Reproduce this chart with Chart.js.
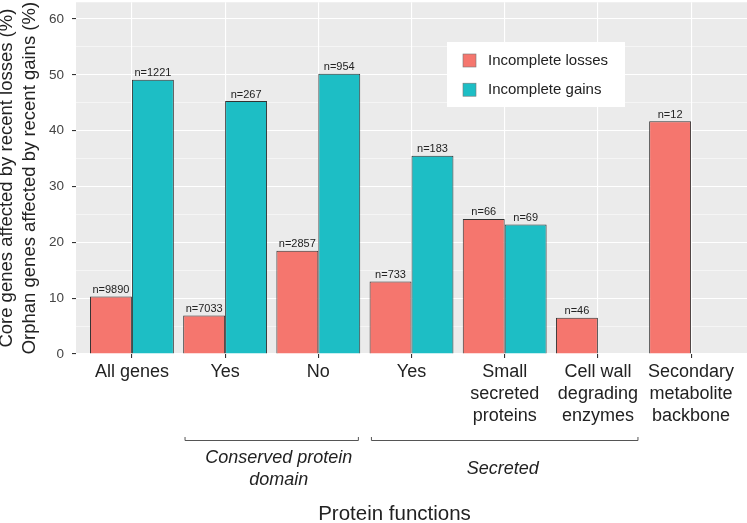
<!DOCTYPE html>
<html lang="en">
<head>
  <meta charset="UTF-8" />
  <title>Protein functions</title>
  <script src="https://cdn.jsdelivr.net/npm/chart.js"></script>
  <style>
    html, body { margin: 0; padding: 0; background: #fff; }
  </style>
</head>
<body>
  <canvas id="myChart" width="747" height="523"></canvas>

  <script>
    // x axis categories (one array per label = lines)
    const categories = [
      ['All genes'], ['Yes'], ['No'], ['Yes'],
      ['Small', 'secreted', 'proteins'],
      ['Cell wall', 'degrading', 'enzymes'],
      ['Secondary', 'metabolite', 'backbone']
    ];
    const lossValues = [10.3, 6.9, 18.5, 13.0, 24.2, 6.5, 41.7];
    const gainValues = [49.1, 45.3, 50.2, 35.5, 23.2, null, null];
    const lossN = ['n=9890', 'n=7033', 'n=2857', 'n=733', 'n=66', 'n=46', 'n=12'];
    const gainN = ['n=1221', 'n=267', 'n=954', 'n=183', 'n=69', null, null];
    const yTicks = [0, 10, 20, 30, 40, 50, 60];
    const yTitle = ['Core genes affected by recent losses (%)', 'Orphan genes affected by recent gains (%)'];
    const xTitle = 'Protein functions';
    const groups = [
      { text: ['Conserved protein', 'domain'], from: 1, to: 2 },
      { text: ['Secreted'], from: 3, to: 5 }
    ];

    const FONT = '"Liberation Sans", Arial, Helvetica, sans-serif';

    // panel background, n= labels, legend, brackets and titles
    const ggExtras = {
      id: 'ggExtras',
      beforeDraw(chart) {
        const { ctx, chartArea: a } = chart;
        ctx.save();
        ctx.fillStyle = '#EBEBEB';
        ctx.fillRect(a.left, a.top, a.right - a.left, a.bottom - a.top);
        ctx.restore();
      },
      afterDatasetsDraw(chart) {
        const ctx = chart.ctx;
        ctx.save();
        ctx.font = '11px ' + FONT;
        ctx.fillStyle = '#222';
        ctx.textAlign = 'center';
        ctx.textBaseline = 'alphabetic';
        [lossN, gainN].forEach((labels, di) => {
          const vals = chart.data.datasets[di].data;
          chart.getDatasetMeta(di).data.forEach((bar, i) => {
            if (!labels[i] || vals[i].y == null) return;
            ctx.fillText(labels[i], bar.x, bar.y - 3.5);
          });
        });
        ctx.restore();
      },
      afterDraw(chart) {
        const { ctx, chartArea: a } = chart;
        const xs = chart.scales.x;
        ctx.save();

        // legend box
        ctx.fillStyle = '#fff';
        ctx.fillRect(447, 42, 178, 65);
        chart.data.datasets.forEach((ds, i) => {
          const cy = 60.5 + i * 29.2;
          ctx.fillStyle = ds.backgroundColor;
          ctx.fillRect(463, cy - 6.5, 13, 13);
          ctx.strokeStyle = '#777';
          ctx.lineWidth = 0.6;
          ctx.strokeRect(463, cy - 6.5, 13, 13);
          ctx.fillStyle = '#222';
          ctx.font = '15px ' + FONT;
          ctx.textAlign = 'left';
          ctx.textBaseline = 'middle';
          ctx.fillText(ds.label, 488, cy);
        });

        // group brackets under the axis labels
        const nudge = [7, -2];
        groups.forEach((g, k) => {
          const x0 = xs.getPixelForValue(g.from - 0.43);
          const x1 = xs.getPixelForValue(g.to + 0.43);
          const by = 440.5;
          ctx.strokeStyle = '#555';
          ctx.lineWidth = 1;
          ctx.beginPath();
          ctx.moveTo(x0, by - 3.5);
          ctx.lineTo(x0, by);
          ctx.lineTo(x1, by);
          ctx.lineTo(x1, by - 3.5);
          ctx.stroke();
          ctx.fillStyle = '#222';
          ctx.font = 'italic 18px ' + FONT;
          ctx.textAlign = 'center';
          ctx.textBaseline = 'middle';
          const cx = (x0 + x1) / 2 + nudge[k];
          const lh = 21.7;
          const top = 469 - (g.text.length - 1) * lh / 2;
          g.text.forEach((t, j) => ctx.fillText(t, cx, top + j * lh));
        });

        // x title
        ctx.fillStyle = '#222';
        ctx.font = '20.5px ' + FONT;
        ctx.textAlign = 'center';
        ctx.textBaseline = 'middle';
        ctx.fillText(xTitle, 394.5, 514);

        // y title, two rotated lines
        ctx.translate(7, (a.top + a.bottom) / 2);
        ctx.rotate(-Math.PI / 2);
        ctx.font = '18.5px ' + FONT;
        ctx.fillText(yTitle[0], 0, 0);
        ctx.fillText(yTitle[1], 0, 23);
        ctx.restore();
      }
    };

    const ctx = document.getElementById('myChart').getContext('2d');
    const myChart = new Chart(ctx, {
      type: 'bar',
      data: {
        datasets: [{
          label: 'Incomplete losses',
          data: lossValues.map((v, i) => ({ x: i, y: v })),
          backgroundColor: '#F5766E',
          borderColor: '#333',
          borderWidth: 1
        }, {
          label: 'Incomplete gains',
          data: gainValues.map((v, i) => ({ x: i, y: v })),
          backgroundColor: '#1DBEC5',
          borderColor: '#333',
          borderWidth: 1
        }]
      },
      options: {
        responsive: false,
        animation: false,
        devicePixelRatio: 1,
        categoryPercentage: 0.9,
        barPercentage: 1,
        layout: { padding: { top: 2.25, left: 0, right: 0, bottom: 0 } },
        plugins: {
          legend: { display: false },
          tooltip: { enabled: false }
        },
        scales: {
          x: {
            type: 'linear',
            min: -0.6,
            max: 6.6,
            offset: false,
            afterBuildTicks: s => { s.ticks = categories.map((_, i) => ({ value: i })); },
            afterFit: s => { s.height = 169; s.paddingLeft = 0; s.paddingRight = 0; },
            grid: { offset: false, color: '#fff', lineWidth: 1.1, tickLength: 4, tickColor: '#333' },
            border: { display: false },
            ticks: {
              callback: v => categories[v],
              color: '#222',
              font: { family: FONT, size: 18, lineHeight: '22px' },
              padding: 3,
              maxRotation: 0,
              autoSkip: false
            }
          },
          y: {
            min: 0,
            max: 63,
            afterBuildTicks: s => {
              const t = [];
              yTicks.forEach((v, i) => {
                t.push({ value: v });
                if (i < yTicks.length - 1) t.push({ value: (v + yTicks[i + 1]) / 2 });
              });
              s.ticks = t;
            },
            afterFit: s => { s.width = 76; s.paddingTop = 0; s.paddingBottom = 0; },
            grid: {
              color: '#fff',
              lineWidth: c => yTicks.includes(c.tick.value) ? 1.1 : 0.5,
              tickColor: c => yTicks.includes(c.tick.value) ? '#333' : 'rgba(0,0,0,0)',
              tickLength: 4
            },
            border: { display: false },
            ticks: {
              callback: v => yTicks.includes(v) ? v : '',
              color: '#444',
              font: { family: FONT, size: 13.5 },
              padding: 8
            }
          }
        }
      },
      plugins: [ggExtras]
    });
  </script>
</body>
</html>
